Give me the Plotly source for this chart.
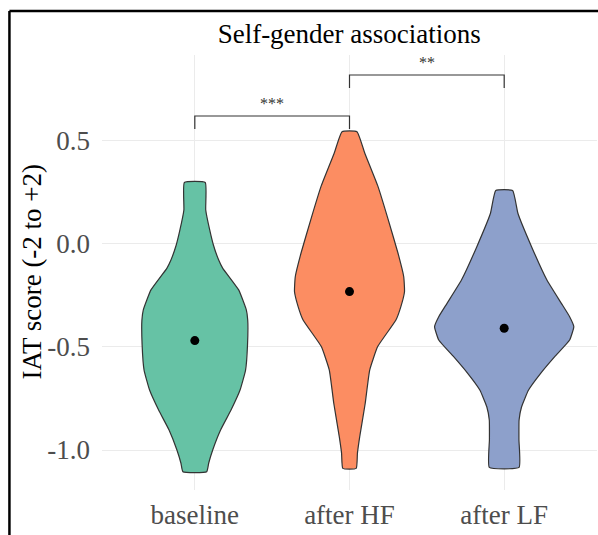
import plotly.graph_objects as go

# Conditions and colours
conditions = ["baseline", "after HF", "after LF"]
fill_colors = ["#66C2A5", "#FC8D62", "#8DA0CB"]

# Kernel-density profiles (score level, relative density; 1 = widest violin)
baseline_score = [0.298, 0.165, 0.068, -0.005, -0.078, -0.117, -0.223, -0.320,
                  -0.369, -0.490, -0.612, -0.709, -0.806, -0.903, -1.000, -1.063, -1.105]
baseline_dens = [0.150, 0.157, 0.214, 0.267, 0.343, 0.400, 0.630, 0.740,
                 0.760, 0.757, 0.729, 0.650, 0.520, 0.370, 0.257, 0.200, 0.171]

hf_score = [0.545, 0.440, 0.278, 0.117, -0.045, -0.159, -0.232, -0.304,
            -0.369, -0.498, -0.612, -0.773, -0.935, -1.015, -1.089]
hf_dens = [0.107, 0.220, 0.410, 0.557, 0.697, 0.779, 0.790, 0.738,
           0.667, 0.405, 0.290, 0.226, 0.147, 0.114, 0.096]

lf_score = [0.259, 0.149, -0.013, -0.175, -0.288, -0.353, -0.401, -0.466,
            -0.547, -0.628, -0.709, -0.790, -0.854, -0.950, -1.084]
lf_dens = [0.121, 0.197, 0.393, 0.614, 0.821, 0.940, 1.000, 0.940,
           0.726, 0.524, 0.350, 0.250, 0.214, 0.212, 0.214]

profiles = [(baseline_score, baseline_dens), (hf_score, hf_dens), (lf_score, lf_dens)]

# Condition means
mean_scores = [-0.469, -0.231, -0.409]

# Pairwise comparisons: (from, to, label, bracket height)
comparisons = [(0, 1, "***", 0.621), (1, 2, "**", 0.820)]

MAX_HALF_WIDTH = 0.45
SERIF = "Liberation Serif"
FONT_SIZE = 27

fig = go.Figure()

for i, (scores, dens) in enumerate(profiles):
    c = i + 1
    right_x = [c + MAX_HALF_WIDTH * d for d in reversed(dens)]
    right_y = list(reversed(scores))
    left_x = [c - MAX_HALF_WIDTH * d for d in dens]
    left_y = list(scores)
    xs = right_x + left_x + [right_x[0]]
    ys = right_y + left_y + [right_y[0]]
    fig.add_trace(go.Scatter(
        x=xs, y=ys, mode="lines", fill="toself",
        fillcolor=fill_colors[i],
        line=dict(color="#333333", width=1.2, shape="spline", smoothing=0.4),
        hoverinfo="skip", showlegend=False,
    ))

fig.add_trace(go.Scatter(
    x=[1, 2, 3], y=mean_scores, mode="markers",
    marker=dict(color="black", size=9),
    showlegend=False,
))

# Significance brackets
tick_drop = 0.063
for a, b, label, h in comparisons:
    xa, xb = a + 1, b + 1
    fig.add_shape(type="path",
                  path=f"M {xa},{h - tick_drop} L {xa},{h} L {xb},{h} L {xb},{h - tick_drop}",
                  xref="x", yref="y", line=dict(color="#333333", width=1.2))
    fig.add_annotation(x=(xa + xb) / 2, y=h, text=label, showarrow=False,
                       yanchor="bottom", yshift=2,
                       font=dict(family=SERIF, size=16, color="#333333"))

# Y-axis title
fig.add_annotation(text="IAT score (-2 to +2)", xref="paper", yref="paper",
                   x=-0.1415, y=0.502, textangle=-90, showarrow=False,
                   xanchor="center", yanchor="middle",
                   font=dict(family=SERIF, size=FONT_SIZE, color="black"))

# Frame lines around the panel
fig.add_shape(type="line", xref="paper", yref="paper",
              x0=-0.187, x1=-0.187, y0=-0.2, y1=1.101,
              line=dict(color="black", width=2.5))
fig.add_shape(type="line", xref="paper", yref="paper",
              x0=-0.187, x1=1.2, y0=1.101, y1=1.101,
              line=dict(color="black", width=2.5))

fig.update_layout(
    width=598, height=535,
    margin=dict(l=102, r=1, t=55, b=45),
    plot_bgcolor="white", paper_bgcolor="white",
    title=dict(text="Self-gender associations", x=0.584, xanchor="center",
               y=0.938, yanchor="middle",
               font=dict(family=SERIF, size=FONT_SIZE, color="black")),
    font=dict(family=SERIF, size=FONT_SIZE, color="#4D4D4D"),
)

fig.update_xaxes(
    range=[0.4, 3.6], tickvals=[1, 2, 3], ticktext=conditions,
    showgrid=True, gridcolor="#EBEBEB", gridwidth=1,
    zeroline=False, showline=False, ticks="",
    ticklabelstandoff=6,
    tickfont=dict(family=SERIF, size=FONT_SIZE, color="#4D4D4D"),
)

fig.update_yaxes(
    range=[-1.194, 0.917],
    tickvals=[-1.0, -0.5, 0.0, 0.5], ticktext=["-1.0", "-0.5", "0.0", "0.5"],
    showgrid=True, gridcolor="#EBEBEB", gridwidth=1,
    zeroline=False, showline=False, ticks="",
    ticklabelstandoff=11,
    tickfont=dict(family=SERIF, size=FONT_SIZE, color="#4D4D4D"),
)

fig.write_html("out.html")
